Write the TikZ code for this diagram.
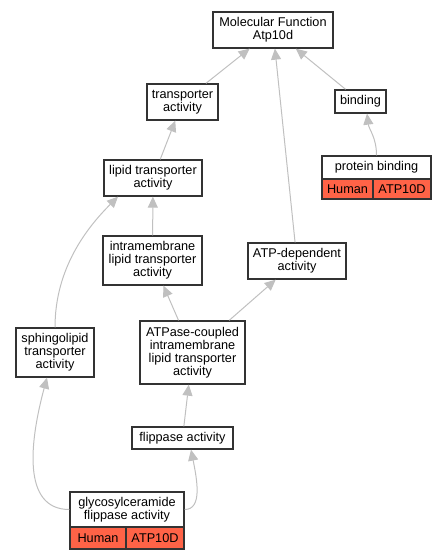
\documentclass[tikz,border=0pt]{standalone}
\usepackage{fontspec}
\setmainfont{Liberation Sans}
\usetikzlibrary{arrows.meta}
\definecolor{boxc}{HTML}{333333}
\definecolor{edgec}{HTML}{C0C0C0}
\definecolor{hum}{HTML}{FF6347}
\begin{document}
\begin{tikzpicture}[x=1pt,y=-1pt,
  box/.style={draw=boxc, line width=1.3pt, fill=white, inner sep=0pt, align=center,
    font=\fontsize{12.7}{13}\selectfont},
  cell/.style={box, fill=hum},
  edge/.style={draw=edgec, line width=1pt, -{Triangle[length=11pt,width=10pt]}}]
\useasboundingbox (0,0) rectangle (445,560);
% nodes
\node[box, minimum width=120pt, minimum height=36pt] (mf) at (273,30) {Molecular Function\\Atp10d};
\node[box, minimum width=71pt, minimum height=36pt] (tr) at (182.5,102) {transporter\\activity};
\node[box, minimum width=51pt, minimum height=23pt] (bi) at (360.5,101.5) {binding};
\node[box, minimum width=109pt, minimum height=23pt] (pb) at (376.5,167.5) {protein binding};
\node[cell, minimum width=51pt, minimum height=20pt] (pbh) at (347.5,189) {Human};
\node[cell, minimum width=58pt, minimum height=20pt] (pbg) at (402,189) {ATP10D};
\node[box, minimum width=98pt, minimum height=36pt] (li) at (153,178) {lipid transporter\\activity};
\node[box, minimum width=99pt, minimum height=49pt] (in) at (152.5,260.5) {intramembrane\\lipid transporter\\activity};
\node[box, minimum width=98pt, minimum height=36pt] (ad) at (297,261) {ATP-dependent\\activity};
\node[box, minimum width=78pt, minimum height=49pt] (sp) at (55,352.5) {sphingolipid\\transporter\\activity};
\node[box, minimum width=105pt, minimum height=63pt] (ac) at (192.5,352.5) {ATPase-coupled\\intramembrane\\lipid transporter\\activity};
\node[box, minimum width=101pt, minimum height=22pt] (fl) at (182.5,438) {flippase activity};
\node[box, minimum width=114pt, minimum height=35pt] (gl) at (127,509.5) {glycosylceramide\\flippase activity};
\node[cell, minimum width=56pt, minimum height=22pt] (glh) at (98,538) {Human};
\node[cell, minimum width=58pt, minimum height=22pt] (glg) at (155,538) {ATP10D};
% edges
\draw[edge] (tr) -- (mf);
\draw[edge] (ad) -- (mf);
\draw[edge] (bi) -- (mf);
\draw[edge] (pb.north) .. controls +(0,-18) and +(2,16) .. ([xshift=6.5pt]bi.south);
\draw[edge] (li) -- (tr);
\draw[edge] (in) -- (li);
\draw[edge] (sp.north) .. controls +(0,-60) and +(-30,30) .. ([xshift=-35pt]li.south);
\draw[edge] (ac) -- (in);
\draw[edge] (ac) -- (ad);
\draw[edge] (fl) -- (ac);
\draw[edge] (gl.east) .. controls +(18,0) and +(6,30) .. ([xshift=8.5pt]fl.south);
\draw[edge] (gl.west) .. controls +(-48,0) and +(-17,63) .. ([xshift=-8pt]sp.south);
\end{tikzpicture}
\end{document}
